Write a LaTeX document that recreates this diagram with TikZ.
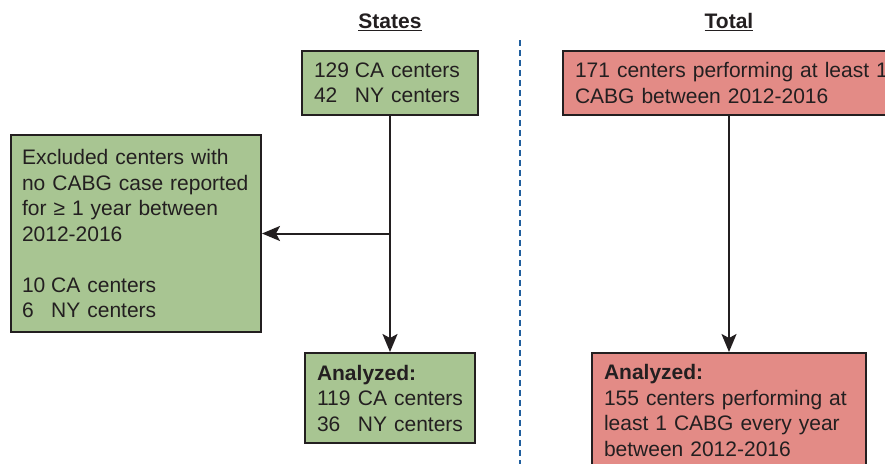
\documentclass[tikz,border=0pt]{standalone}
\usepackage{fontspec}
\setmainfont{Liberation Sans}
\usetikzlibrary{arrows.meta}
\definecolor{txt}{HTML}{231F20}
\definecolor{boxgreen}{HTML}{A8C592}
\definecolor{boxred}{HTML}{E38B86}
\definecolor{dashblue}{HTML}{1F5E9E}
\newcommand\nbw[2]{\makebox[#1][l]{#2}}
\begin{document}
\begin{tikzpicture}[x=1pt,y=-1pt,
  every node/.style={text=txt,font=\fontsize{21}{25.5}\selectfont},
  flowbox/.style={draw=txt,line width=2pt,rectangle,inner sep=0pt,align=left,anchor=center},
  greenbox/.style={flowbox,fill=boxgreen},
  redbox/.style={flowbox,fill=boxred},
  conn/.style={draw=txt,line width=2pt,-{Stealth[length=18pt,width=15pt,inset=4pt]}},
  header/.style={font=\bfseries\fontsize{21}{25.5}\selectfont}]
\clip (0,0) rectangle (885,463);
\useasboundingbox (0,0) rectangle (885,463);
% headers
\node[header] (hs) at (390,22) {\underline{States}};
\node[header] (ht) at (729,22) {\underline{Total}};
% divider
\draw[dashblue,line width=2pt,dash pattern=on 6pt off 4pt] (520,40) -- (520,470);
% boxes
\node[greenbox,minimum width=176pt,minimum height=64pt,text width=152pt] (s1) at (390,83)
  {\nbw{1.95em}{129}CA centers\\\nbw{1.95em}{42}NY centers};
\node[redbox,minimum width=332pt,minimum height=64pt,text width=308pt] (t1) at (729,83)
  {\mbox{171 centers performing at least 1}\\CABG between 2012-2016};
\node[greenbox,minimum width=250pt,minimum height=197pt,text width=228pt] (ex) at (136,233.5)
  {Excluded centers with\\no CABG case reported\\for ≥ 1 year between\\2012-2016\\[25.5pt]\nbw{1.39em}{10}CA centers\\\nbw{1.39em}{6}NY centers};
\node[greenbox,minimum width=170pt,minimum height=90pt,text width=146pt] (s2) at (390,398)
  {\textbf{Analyzed:}\\\nbw{1.95em}{119}CA centers\\\nbw{1.95em}{36}NY centers};
\node[redbox,minimum width=274pt,minimum height=115pt,text width=250pt] (t2) at (729,410.5)
  {\textbf{Analyzed:}\\155 centers performing at\\least 1 CABG every year\\between 2012-2016};
% connectors
\coordinate (br) at (390,233.5);
\draw[conn] (s1.south) -- (s2.north);
\draw[conn] (br) -- (ex.east);
\draw[conn] (t1.south) -- (t2.north);
\end{tikzpicture}
\end{document}
